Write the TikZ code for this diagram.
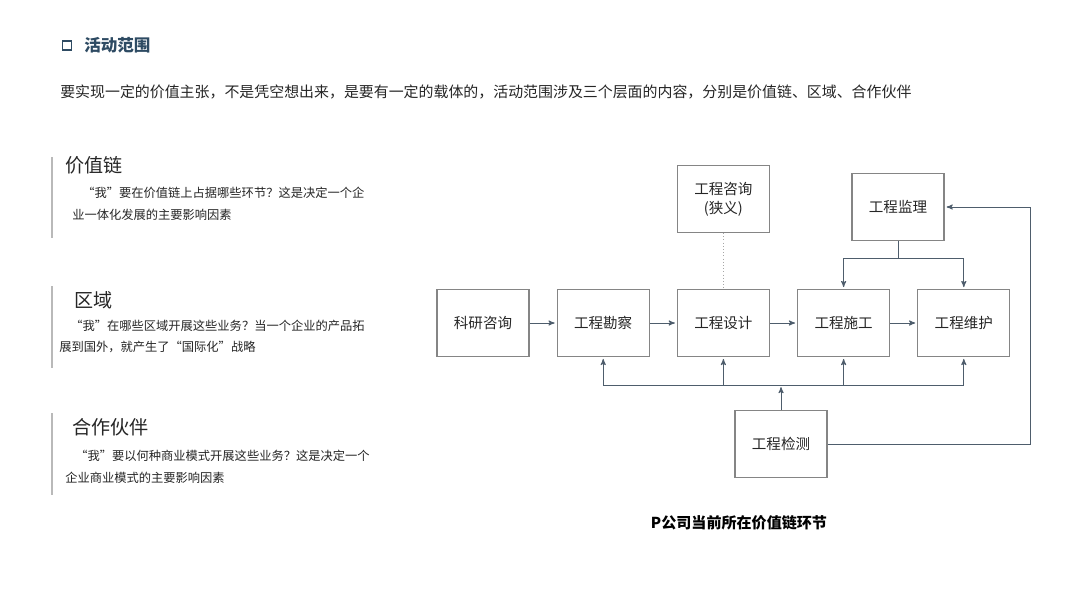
\documentclass[tikz,border=0pt]{standalone}
\usepackage{fontspec}
\setmainfont{Noto Sans CJK SC}
\usetikzlibrary{arrows,positioning}
\definecolor{linec}{HTML}{4E5D6C}
\definecolor{boxc}{HTML}{858585}
\definecolor{titlec}{HTML}{2E4B63}
\definecolor{textc}{HTML}{262626}
\tikzset{
	%Define style for boxes
	stage/.style={
		rectangle,
		draw=boxc, line width=0.9pt,
		minimum width=69pt,
		minimum height=50pt,
		inner sep=2pt,
		align=center,
		text=textc,
		font=\fontsize{10.9}{14}\selectfont},
	%Define style for plain text
	txt/.style={anchor=west, inner sep=0pt, text=textc},
	flow/.style={->, draw=linec, line width=0.7pt, shorten >=1.5pt},
	link/.style={draw=linec, line width=0.7pt}
}

\begin{document}
\begin{tikzpicture}[x=0.75pt,y=-0.75pt,>=stealth',node distance=20.25pt]
	\fill[white] (0,0) rectangle (1080,608);
	% title and intro
	\draw[titlec, line width=1.4pt] (62.5,41) rectangle (71.5,50);
	\node[txt, text=titlec, font=\bfseries\fontsize{12.4}{14}\selectfont] (title) at (84,45) {活动范围};
	\node[txt, font=\fontsize{11.2}{14}\selectfont] (intro) at (60,92) {要实现一定的价值主张，不是凭空想出来，是要有一定的载体的，活动范围涉及三个层面的内容，分别是价值链、区域、合作伙伴};
	% left column
	\draw[gray!55, line width=0.8pt] (52,157) -- (52,238);
	\draw[gray!55, line width=0.8pt] (52,286) -- (52,368);
	\draw[gray!55, line width=0.8pt] (52,413) -- (52,495);
	\node[txt, font=\fontsize{14.3}{16}\selectfont] (hchain) at (65,165) {价值链};
	\node[txt, font=\fontsize{9.2}{11}\selectfont] (tchain1) at (82,193) {“我”要在价值链上占据哪些环节？这是决定一个企};
	\node[txt, font=\fontsize{9.2}{11}\selectfont] (tchain2) at (72,215) {业一体化发展的主要影响因素};
	\node[txt, font=\fontsize{14.3}{16}\selectfont] (hzone) at (74,300) {区域};
	\node[txt, font=\fontsize{9.2}{11}\selectfont] (tzone1) at (70,326) {“我”在哪些区域开展这些业务？当一个企业的产品拓};
	\node[txt, font=\fontsize{9.2}{11}\selectfont] (tzone2) at (59,347) {展到国外，就产生了“国际化”战略};
	\node[txt, font=\fontsize{14.3}{16}\selectfont] (hpart) at (72,427) {合作伙伴};
	\node[txt, font=\fontsize{9.2}{11}\selectfont] (tpart1) at (75,456) {“我”要以何种商业模式开展这些业务？这是决定一个};
	\node[txt, font=\fontsize{9.2}{11}\selectfont] (tpart2) at (65,478) {企业商业模式的主要影响因素};
	% value chain
	\node[stage] (kyzx) at (483,323) {科研咨询};
	\node[stage, right=of kyzx] (gckc) {工程勘察};
	\node[stage, right=of gckc] (gcsj) {工程设计};
	\node[stage, right=of gcsj] (gcsg) {工程施工};
	\node[stage, right=of gcsg] (gcwh) {工程维护};
	\node[stage, above=42pt of gcsj] (gczx) {工程咨询\\(狭义)};
	\node[stage] (gcjl) at (898,207) {工程监理};
	\node[stage] (gcjc) at (781,444) {工程检测};
	\draw[flow] (kyzx) -- (gckc);
	\draw[flow] (gckc) -- (gcsj);
	\draw[flow] (gcsj) -- (gcsg);
	\draw[flow] (gcsg) -- (gcwh);
	\draw[dotted, gray!70] (gczx) -- (gcsj);
	\draw[link] (gcjl.south) -- ++(0,18) coordinate (jlfork);
	\draw[flow] (jlfork) -| (gcsg.north);
	\draw[flow] (jlfork) -| (gcwh.north);
	\draw[flow] (gcjc.north) -- ++(0,-25) coordinate (bus);
	\draw[flow] (bus) -| (gckc.south);
	\draw[flow] (bus) -| (gcsj.south);
	\draw[flow] (bus) -| (gcsg.south);
	\draw[flow] (bus) -| (gcwh.south);
	\draw[flow] (gcjc.east) -- ++(203,0) |- (gcjl.east);
	\node[font=\bfseries\fontsize{11.3}{14}\selectfont] (caption) at (739,523) {P公司当前所在价值链环节};
\end{tikzpicture}
\end{document}
